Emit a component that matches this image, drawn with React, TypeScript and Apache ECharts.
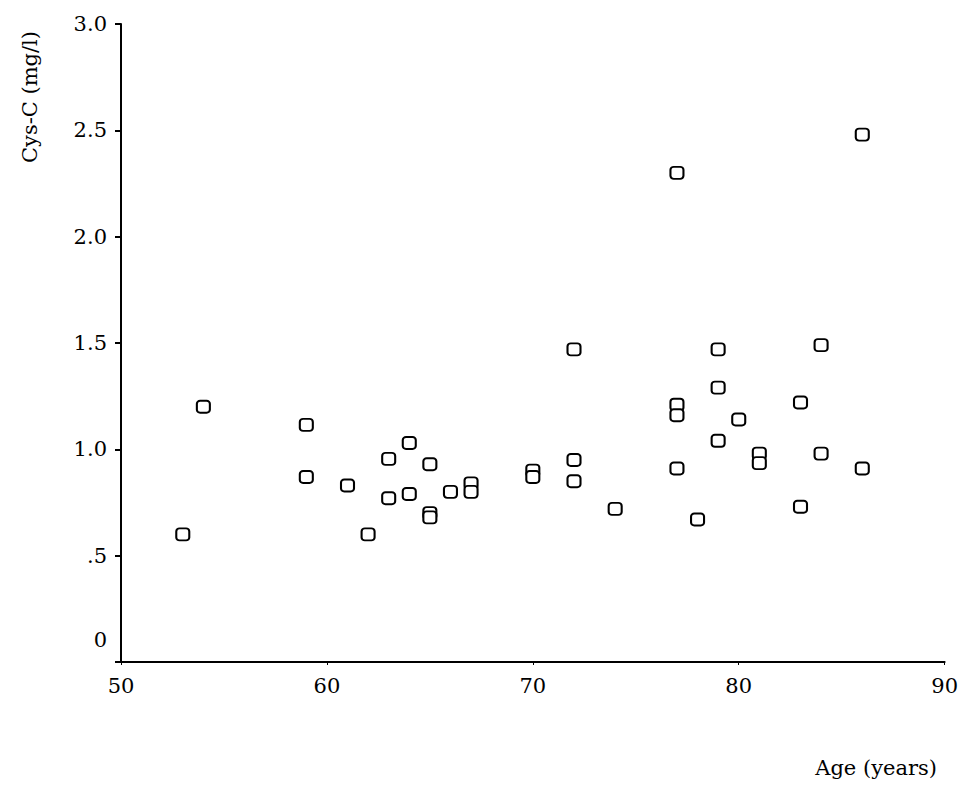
import React, { useEffect, useRef } from "react";
import * as echarts from "echarts";

const ages = [53, 54, 59, 59, 61, 62, 63, 63, 64, 64, 65, 65, 65, 66, 67, 67, 70, 70, 72, 72, 72, 74, 77, 77, 77, 77, 78, 79, 79, 79, 80, 81, 81, 83, 83, 84, 84, 86, 86];
const cysC = [0.6, 1.2, 1.115, 0.87, 0.83, 0.6, 0.955, 0.77, 1.03, 0.79, 0.93, 0.70, 0.68, 0.80, 0.84, 0.80, 0.90, 0.87, 1.47, 0.95, 0.85, 0.72, 2.30, 1.21, 1.16, 0.91, 0.67, 1.47, 1.29, 1.04, 1.14, 0.98, 0.935, 1.22, 0.73, 1.49, 0.98, 2.48, 0.91];

const xTitle = "Age (years)";
const yTitle = "Cys-C (mg/l)";
const FONT = "DejaVu Serif";

export default function App() {
  const ref = useRef<HTMLDivElement>(null);
  useEffect(() => {
    if (!ref.current) return;
    const chart = echarts.init(ref.current, undefined, { renderer: "svg" });
    const data = ages.map((a, i) => [a, cysC[i]]);
    chart.setOption({
      animation: false,
      backgroundColor: "#ffffff",
      grid: { left: 113, top: 16, right: 16, bottom: 125, containLabel: false },
      xAxis: {
        type: "value",
        min: 50,
        max: 90,
        interval: 10,
        splitLine: { show: false },
        axisLine: { show: true, lineStyle: { color: "#000", width: 2 } },
        axisTick: { show: true, length: 3, lineStyle: { color: "#000", width: 1 } },
        axisLabel: { color: "#000", fontFamily: FONT, fontSize: 21, margin: 13 },
      },
      yAxis: {
        type: "value",
        min: 0,
        max: 3,
        interval: 0.5,
        splitLine: { show: false },
        axisLine: { show: true, lineStyle: { color: "#000", width: 2 } },
        axisTick: { show: true, length: 6, lineStyle: { color: "#000", width: 2 } },
        axisLabel: {
          color: "#000",
          fontFamily: FONT,
          fontSize: 21,
          margin: 14,
          formatter: (v: number) => {
            if (v === 0) return "{z|0}";
            if (v === 0.5) return ".5";
            return v.toFixed(1);
          },
          rich: {
            z: { fontFamily: FONT, fontSize: 21, color: "#000", padding: [0, 0, 44, 0] },
          },
        },
      },
      graphic: [
        {
          type: "text",
          x: 22,
          y: 89,
          rotation: Math.PI / 2,
          style: {
            text: yTitle,
            fontFamily: FONT,
            fontSize: 21,
            fill: "#000",
            align: "center",
            verticalAlign: "middle",
          },
        },
        {
          type: "text",
          x: 929,
          y: 760,
          style: {
            text: xTitle,
            fontFamily: FONT,
            fontSize: 21,
            fill: "#000",
            align: "right",
            verticalAlign: "middle",
          },
        },
      ],
      series: [
        {
          type: "scatter",
          data,
          symbol: "roundRect",
          symbolSize: [13, 12],
          itemStyle: { color: "#fff", borderColor: "#000", borderWidth: 2, opacity: 1 },
        },
      ],
    });
    return () => chart.dispose();
  }, []);
  return <div ref={ref} style={{ width: 953, height: 779 }} />;
}
